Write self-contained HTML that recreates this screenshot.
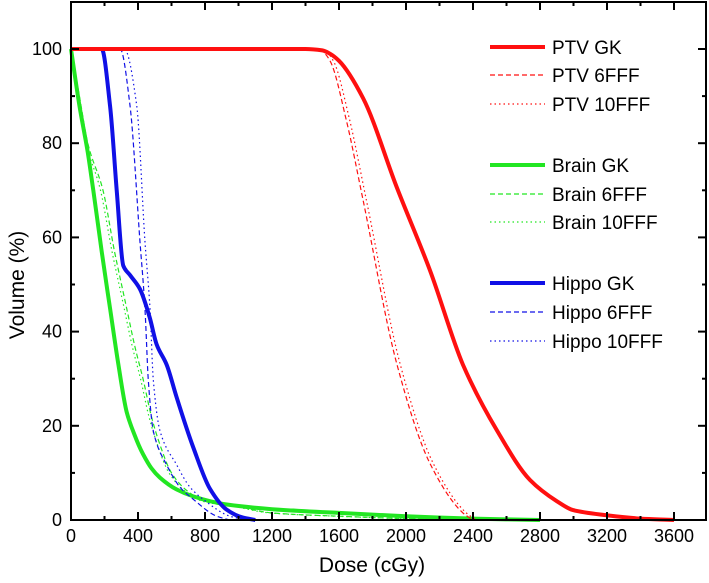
<!DOCTYPE html>
<html><head><meta charset="utf-8"><style>
html,body{margin:0;padding:0;background:#fff;}
svg{display:block;font-family:"Liberation Sans",Arial,sans-serif;}
</style></head><body>
<svg id="chart" width="709" height="583" xmlns="http://www.w3.org/2000/svg">
<g id="plot"></g>
<g id="axes"></g>
<g id="legend"></g>
<text x="372" y="572" font-size="21" text-anchor="middle">Dose (cGy)</text>
<text transform="translate(24,285) rotate(-90)" font-size="21" text-anchor="middle">Volume (%)</text>
</svg>
<script>
const xTicks=[0,400,800,1200,1600,2000,2400,2800,3200,3600];
const yTicks=[0,20,40,60,80,100];
const ptvGkDose=[0,1400,1500,1546,1600,1743,1946,2143,2340,2543,2740,2900,2997,3200,3400,3600];
const ptvGkVol=[100,100,99.7,99,97.5,89.6,70.5,53,33,19,8.5,4,2.1,1,0.3,0];
const ptv6Dose=[0,1450,1500,1546,1643,1743,1946,2143,2340,2400];
const ptv6Vol=[100,100,99.5,97.5,85,68,33,12,1.5,0];
const ptv10Dose=[0,1470,1520,1566,1663,1763,1966,2163,2360,2420];
const ptv10Vol=[100,100,99.5,97.5,85,68,33,12,1.5,0];
const brainGkDose=[0,50,100,133,183,233,283,332,380,430,480,531,630,730,830,930,1200,1600,2000,2400,2800];
const brainGkVol=[100,88,78,70,57,45,33,23,18,14,11,9,6.5,5,4,3.3,2.3,1.5,0.8,0.3,0];
const brain6Dose=[0,50,100,191,260,332,380,430,480,531,600,700,800,1000,1200,1600,2000,2400];
const brain6Vol=[100,90,80,70,57,45,37,30,22,16,10,6,4,2.8,1.5,0.8,0.3,0];
const brain10Dose=[0,40,90,176,245,317,365,415,465,516,585,685,785,985,1185,1585,1985,2385];
const brain10Vol=[100,90,80,70,57,45,37,30,22,16,10,6,4,2.8,1.5,0.8,0.3,0];
const hippoGkDose=[0,183,233,273,312,352,412,470,511,571,631,730,830,929,1027,1100];
const hippoGkVol=[100,100,88,70,54,52,49,43,37.3,33,26,15.4,6.6,2.2,0.5,0];
const hippo6Dose=[0,293,352,412,442,461,491,571,650,730,870,950];
const hippo6Vol=[100,100,88,59,44.6,30,19,11.7,7,4.4,0.8,0];
const hippo10Dose=[0,318,392,442,472,491,531,631,710,789,949,1050];
const hippo10Vol=[100,100,88,59,44.6,30,19,11.7,7,4.4,0.8,0];

const X0=71,X1=674,Y0=520,Y1=49,RIGHT=706,TOP=2;
const xs=d=>X0+(d/3600)*(X1-X0);
const ys=v=>Y0-(v/100)*(Y0-Y1);
const NS="http://www.w3.org/2000/svg";
const plot=document.getElementById('plot'),axes=document.getElementById('axes'),leg=document.getElementById('legend');
function mk(tag,attrs,parent){const e=document.createElementNS(NS,tag);for(const k in attrs)e.setAttribute(k,attrs[k]);parent.appendChild(e);return e;}
function monotonePath(px,py){
 const n=px.length,dx=[],m=[],t=new Array(n);
 for(let i=0;i<n-1;i++){dx.push(px[i+1]-px[i]);m.push((py[i+1]-py[i])/(px[i+1]-px[i]));}
 t[0]=m[0];t[n-1]=m[n-2];
 for(let i=1;i<n-1;i++){t[i]=(m[i-1]*m[i]<=0)?0:(dx[i-1]+dx[i])*3/((2*dx[i]+dx[i-1])/m[i-1]+(dx[i]+2*dx[i-1])/m[i]);}
 let d='M'+px[0].toFixed(1)+','+py[0].toFixed(1);
 for(let i=0;i<n-1;i++){const h=dx[i]/3;
  d+='C'+(px[i]+h).toFixed(1)+','+(py[i]+t[i]*h).toFixed(1)+' '+(px[i+1]-h).toFixed(1)+','+(py[i+1]-t[i+1]*h).toFixed(1)+' '+px[i+1].toFixed(1)+','+py[i+1].toFixed(1);}
 return d;
}
const RED='#ff1010',GREEN='#22e622',BLUE='#1010e6';
const series=[
 ['brain-gk',brainGkDose,brainGkVol,GREEN,4,null],
 ['brain-6fff',brain6Dose,brain6Vol,GREEN,1.2,'5,3'],
 ['brain-10fff',brain10Dose,brain10Vol,GREEN,1.2,'1.5,3'],
 ['hippo-6fff',hippo6Dose,hippo6Vol,BLUE,1.2,'5,3'],
 ['hippo-10fff',hippo10Dose,hippo10Vol,BLUE,1.2,'1.5,3'],
 ['hippo-gk',hippoGkDose,hippoGkVol,BLUE,4,null],
 ['ptv-6fff',ptv6Dose,ptv6Vol,RED,1.2,'5,3'],
 ['ptv-10fff',ptv10Dose,ptv10Vol,RED,1.2,'1.5,3'],
 ['ptv-gk',ptvGkDose,ptvGkVol,RED,4,null]
];
series.forEach(s=>{
 const d=monotonePath(s[1].map(xs),s[2].map(ys));
 const p=mk('path',{d:d,fill:'none',stroke:s[3],'stroke-width':s[4],'stroke-linejoin':'round'},plot);
 if(s[5])p.setAttribute('stroke-dasharray',s[5]);
 
 
});
const fr=mk('rect',{x:X0,y:TOP,width:RIGHT-X0,height:Y0-TOP,fill:'none',stroke:'#000','stroke-width':2},axes);


for(let d=0;d<=3600;d+=200){
 const major=d%400===0,len=major?8:4,x=xs(d);
 mk('line',{x1:x,x2:x,y1:Y0,y2:Y0-len,stroke:'#000','stroke-width':2},axes);
 mk('line',{x1:x,x2:x,y1:TOP,y2:TOP+len,stroke:'#000','stroke-width':2},axes);
}
xTicks.forEach(t=>{
 const e=mk('text',{x:xs(t),y:542,'font-size':18,'text-anchor':'middle'},axes);e.textContent=t;
 
 
});
for(let v=0;v<=100;v+=10){
 const major=v%20===0,len=major?8:4,y=ys(v);
 mk('line',{x1:X0,x2:X0+len,y1:y,y2:y,stroke:'#000','stroke-width':2},axes);
 mk('line',{x1:RIGHT,x2:RIGHT-len,y1:y,y2:y,stroke:'#000','stroke-width':2},axes);
}
yTicks.forEach(t=>{
 const e=mk('text',{x:62,y:ys(t)+6,'font-size':18,'text-anchor':'end'},axes);e.textContent=t;
 
 
});
const legItems=[['PTV GK',RED,4,null,47],['PTV 6FFF',RED,1.2,'5,3',75],['PTV 10FFF',RED,1.2,'1.5,3',104],
['Brain GK',GREEN,4,null,165],['Brain 6FFF',GREEN,1.2,'5,3',194],['Brain 10FFF',GREEN,1.2,'1.5,3',222],
['Hippo GK',BLUE,4,null,283],['Hippo 6FFF',BLUE,1.2,'5,3',312],['Hippo 10FFF',BLUE,1.2,'1.5,3',341]];
legItems.forEach(it=>{
 const g=mk('g',{},leg);
 
 
 const l=mk('line',{x1:490,x2:545,y1:it[4],y2:it[4],stroke:it[1],'stroke-width':it[2]},g);
 if(it[3])l.setAttribute('stroke-dasharray',it[3]);
 const t=mk('text',{x:552,y:it[4]+7,'font-size':19},g);t.textContent=it[0];
});
</script>
</body></html>
